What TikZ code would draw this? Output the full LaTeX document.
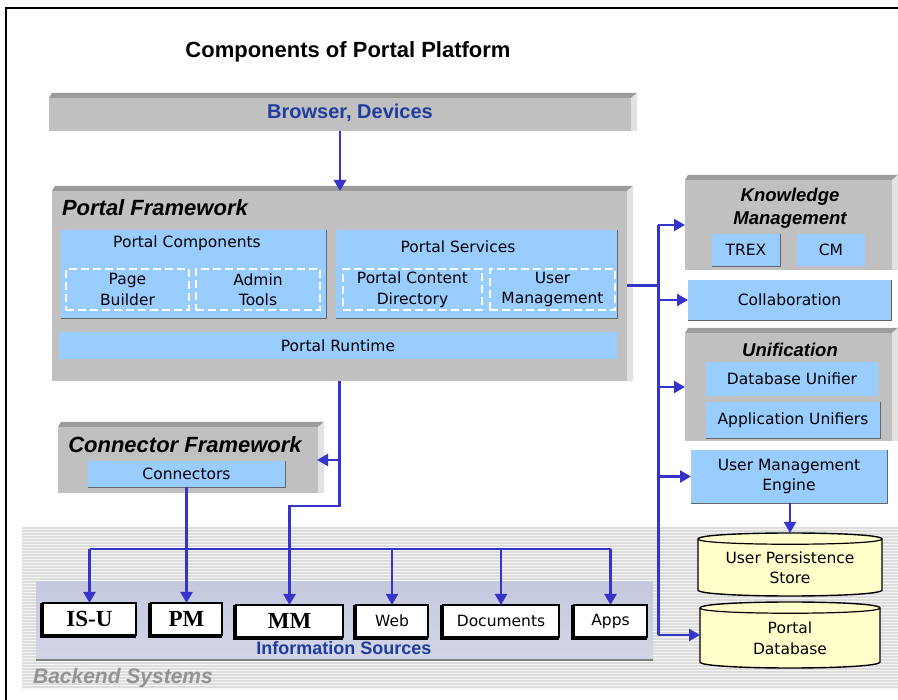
\documentclass[tikz,border=0pt]{standalone}
\usepackage{fontspec}
\setmainfont{DejaVu Sans}
\newfontfamily\arialf{Liberation Sans}
\newfontfamily\timesf{Liberation Serif}
\usetikzlibrary{arrows.meta,calc}
\definecolor{gbox}{HTML}{C0C0C0}
\definecolor{gtop}{HTML}{9C9C9C}
\definecolor{gside}{HTML}{E2E2E2}
\definecolor{lblue}{HTML}{99CCFF}
\definecolor{abl}{HTML}{3535CC}
\definecolor{tblue}{HTML}{1F3D9E}
\definecolor{cylf}{HTML}{FFFFCC}
\definecolor{stripebg}{HTML}{F6F6F6}
\definecolor{stripeln}{HTML}{DCDCDC}
\definecolor{ptop}{HTML}{C5C9DE}
\definecolor{pmid}{HTML}{EEF0F8}
\definecolor{pbot}{HTML}{D3D6E7}
\newcommand\bodyf{\fontsize{15.5}{20.5}\selectfont}
\newcommand\ttlf{\arialf\bfseries\itshape\fontsize{22}{26}\selectfont}
\newcommand\serf{\timesf\bfseries\fontsize{23}{26}\selectfont}
\newcommand\mkbox[7][]{\node[#1, minimum width=#4pt-#2pt, minimum height=#5pt-#3pt] (#6) at ({(#2+#4)/2},{(#3+#5)/2}) {#7};}
\newcommand\deco[1]{%
  \fill[gtop] (#1.north west) -- ([xshift=3pt,yshift=5pt]#1.north west) -- ([xshift=6pt,yshift=5pt]#1.north east) -- (#1.north east) -- cycle;
  \fill[gside] (#1.north east) -- ([xshift=6pt,yshift=5pt]#1.north east) -- ([xshift=6pt]#1.south east) -- (#1.south east) -- cycle;}
\newcommand\bshadow[1]{\draw[gray!80!black, line width=1pt] ([yshift=-0.5pt]#1.south west) -- ([xshift=0.5pt,yshift=-0.5pt]#1.south east) -- ([xshift=0.5pt]#1.north east);}
\newcommand\wsh[1]{\draw[line width=1.4pt] ([xshift=-2pt]#1.north west) -- ([xshift=-2pt,yshift=-2pt]#1.south west) -- ([yshift=-2pt]#1.south east);}
\newcommand\cyl[4]{%
  \filldraw[fill=cylf, draw=black, line width=1.4pt] (#1,#2+6) .. controls (#1,#2-2) and (#3,#2-2) .. (#3,#2+6) -- (#3,#4-6) .. controls (#3,#4+2) and (#1,#4+2) .. (#1,#4-6) -- cycle;
  \draw[line width=1.2pt] (#1,#2+6) .. controls (#1,#2+13) and (#3,#2+13) .. (#3,#2+6);}
\begin{document}
\begin{tikzpicture}[x=1pt,y=-1pt,
  every node/.style={inner sep=0pt, outer sep=0pt},
  gray3d/.style={fill=gbox},
  bluebox/.style={fill=lblue, font=\bodyf, align=center},
  dashbox/.style={draw=white, line width=2pt, dash pattern=on 8pt off 4pt, align=center, font=\bodyf},
  wbox/.style={draw=black, line width=1.4pt, fill=white},
  conn/.style={draw=abl, line width=2.3pt},
  trunk/.style={draw=abl, line width=3pt},
  arr/.style={conn, -{Triangle[length=11pt,width=12pt]}},
  ]
\useasboundingbox (0,0) rectangle (898,700);
\fill[white] (0,0) rectangle (898,700);
\draw[line width=1.6pt] (6,700) -- (6,8) -- (898,8);

% title
\node[font=\arialf\bfseries\fontsize{22}{26}\selectfont] (title) at (348,52) {Components of Portal Platform};

% backend background
\fill[stripebg] (22,527) rectangle (898,690);
\foreach \yy in {528,531,...,688} \draw[stripeln, line width=1.2pt] (22,\yy) -- (898,\yy);
\shade[top color=ptop, middle color=pmid, bottom color=pbot] (36,582) rectangle (653,660);
\draw[gray, line width=1.2pt] (36,660) -- (653,660);
\node[font=\arialf\bfseries\itshape\fontsize{21}{25}\selectfont, text=gray!85] (bst) at (123,678) {Backend Systems};
\node[font=\arialf\bfseries\fontsize{18}{22}\selectfont, text=tblue] (ist) at (344,648) {Information Sources};

% browser
\mkbox[gray3d]{49}{98}{631}{131}{bd}{}
\deco{bd}
\node[font=\arialf\bfseries\fontsize{20}{24}\selectfont, text=tblue] (bdt) at (350,113) {Browser, Devices};

% portal framework
\mkbox[gray3d]{52}{191}{627}{381}{pf}{}
\deco{pf}
\node[font=\ttlf, anchor=west] (pft) at (62,208) {Portal Framework};
\mkbox[bluebox]{61}{230}{326}{318}{pc}{}
\bshadow{pc}
\node[font=\bodyf] (pct) at (187,243) {Portal Components};
\mkbox[dashbox]{66}{269}{189}{310}{pb}{Page\\Builder}
\mkbox[dashbox]{196}{269}{320}{310}{at}{Admin\\Tools}
\mkbox[bluebox]{336}{230}{617}{318}{ps}{}
\bshadow{ps}
\node[font=\bodyf] (pst) at (458,247) {Portal Services};
\mkbox[dashbox]{343}{269}{482}{310}{pcd}{Portal Content\\Directory}
\mkbox[dashbox]{490}{269}{615}{310}{um}{User\\Management}
\mkbox[bluebox]{59}{332}{617}{359}{pr}{Portal Runtime}

% knowledge management
\mkbox[gray3d]{685}{180}{892}{270}{km}{}
\deco{km}
\node[font=\arialf\bfseries\itshape\fontsize{18.5}{23}\selectfont, align=center] (kmt) at (790,208) {Knowledge\\Management};
\mkbox[bluebox]{712}{234}{780}{266}{trex}{TREX}
\bshadow{trex}
\mkbox[bluebox]{797}{234}{865}{266}{cm}{CM}
\mkbox[bluebox]{688}{280}{891}{320}{collab}{Collaboration}
\bshadow{collab}

% unification
\mkbox[gray3d]{685}{333}{892}{441}{uni}{}
\deco{uni}
\node[font=\arialf\bfseries\itshape\fontsize{18.5}{23}\selectfont] (unit) at (790,350) {Unification};
\mkbox[bluebox]{706}{362}{878}{396}{dbu}{Database Unifier}
\mkbox[bluebox]{706}{402}{880}{438}{apu}{Application Unifiers}
\bshadow{apu}

% user management engine
\mkbox[bluebox]{691}{450}{887}{503}{ume}{User Management\\Engine}
\bshadow{ume}

% cylinders
\cyl{698}{533}{882}{596}
\mkbox{698}{533}{882}{596}{ups}{}
\node[font=\bodyf, align=center] (upst) at ([yshift=-3pt]ups.center) {User Persistence\\Store};
\cyl{700}{602}{880}{668}
\mkbox{700}{602}{880}{668}{pdb}{}
\node[font=\bodyf, align=center] (pdbt) at ([yshift=-3pt]pdb.center) {Portal\\Database};

% connector framework
\mkbox[gray3d]{58}{427}{318}{493}{cf}{}
\deco{cf}
\node[font=\ttlf] (cft) at (185,445) {Connector Framework};
\mkbox[bluebox]{88}{461}{285}{487}{con}{Connectors}
\bshadow{con}

% information sources boxes
\mkbox[wbox, font=\serf]{43}{603}{136}{635}{isu}{IS-U}
\mkbox[wbox, font=\serf]{151}{603}{222}{635}{pm}{PM}
\mkbox[wbox, font=\serf]{236}{605}{343}{637}{mm}{MM}
\mkbox[wbox, font=\bodyf]{356}{605}{428}{637}{web}{Web}
\mkbox[wbox, font=\bodyf]{443}{605}{559}{637}{docs}{Documents}
\mkbox[wbox, font=\bodyf]{574}{605}{647}{637}{apps}{Apps}
\wsh{isu}\wsh{pm}\wsh{mm}\wsh{web}\wsh{docs}\wsh{apps}

% connectors
\coordinate (trk) at (658,0);
\coordinate (d1) at (0,506);
\coordinate (bus) at (0,549);
\draw[arr, line width=2.6pt] (bd.south) -- (bd.south |- pf.north);
\draw[trunk] (pf.east) -- (trk |- pf.east);
\draw[trunk] (trk |- km.west) -- (trk |- pdb.west);
\draw[arr] (trk |- km.west) -- (km.west);
\draw[arr] (trk |- collab.west) -- (collab.west);
\draw[arr] (trk |- uni.west) -- (uni.west);
\draw[arr] (trk |- ume.west) -- (ume.west);
\draw[arr] (trk |- pdb.west) -- (pdb.west);
\draw[arr] (ume.south -| ups.north) -- (ups.north);
\draw[arr] (pf.south) -- (pf.south |- d1) -| (mm.north);
\draw[arr] (pf.south |- cf.east) -- ([xshift=-1pt]cf.east);
\draw[arr] (con.south -| pm.north) -- (pm.north);
\draw[conn] (bus -| isu.north) -- (bus -| apps.north);
\draw[arr] (bus -| isu.north) -- (isu.north);
\draw[arr] (bus -| web.north) -- (web.north);
\draw[arr] (bus -| docs.north) -- (docs.north);
\draw[arr] (bus -| apps.north) -- (apps.north);
\end{tikzpicture}
\end{document}
